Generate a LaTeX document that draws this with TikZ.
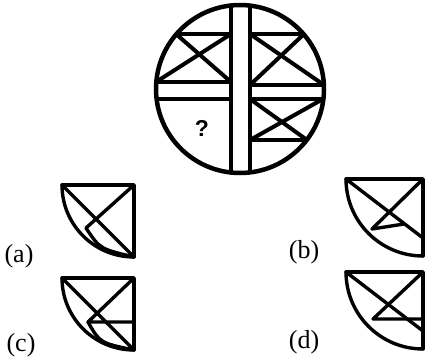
\documentclass[tikz,border=0pt]{standalone}
\usepackage{fontspec}
\setmainfont{Liberation Serif}
\newfontfamily\qfont{Liberation Sans}
\begin{document}
\begin{tikzpicture}[x=1pt,y=-1pt,
  ln/.style={line width=4.5pt,line cap=butt},
  opt/.style={line width=3.4pt,line cap=round,line join=round},
  lab/.style={font=\fontsize{26}{26}\selectfont,inner sep=0pt}]
\useasboundingbox (0,0) rectangle (426,359);
% main circle
\coordinate (C) at (240,89);
\begin{scope}
  \clip (C) circle[radius=84];
  % vertical bar
  \draw[ln] (231,0) -- (231,180);
  \draw[ln] (250,0) -- (250,180);
  % horizontal bar
  \draw[ln] (150,82) -- (231,82);
  \draw[ln] (150,99) -- (231,99);
  \draw[ln] (250,85) -- (330,85);
  \draw[ln] (250,99) -- (330,99);
  % top-left cell
  \draw[ln] (150,34) -- (231,34);
  \draw[ln,line width=4pt] (176,34) -- (231,82);
  \draw[ln,line width=4pt] (231,34) -- (156,82);
  % top-right cell
  \draw[ln] (250,34) -- (330,34);
  \draw[ln,line width=4pt] (250,34) -- (324,85);
  \draw[ln,line width=4pt] (304,34) -- (250,85);
  % bottom-right cell
  \draw[ln] (250,140) -- (330,140);
  \draw[ln,line width=4pt] (250,99) -- (307,140);
  \draw[ln,line width=4pt] (323,99) -- (250,140);
\end{scope}
\draw[line width=4.5pt] (C) circle[radius=84];
\node[font=\qfont\bfseries\fontsize{23}{23}\selectfont,inner sep=0pt] (q) at (202,128) {?};
% option (a)
\coordinate (a1) at (62,185);
\coordinate (a2) at (134,185);
\coordinate (a3) at (134,257);
\coordinate (a4) at (86,228);
\draw[opt] (a1) -- (a2) -- (a3);
\draw[opt] (a1) arc[start angle=180,end angle=90,radius=72];
\draw[opt] (a1) -- (a3);
\draw[opt] (a2) -- (a4);
\draw[opt] (a4) .. controls (100,249) .. (a3);
\node[lab] (la) at (19,256) {(a)};
% option (b)
\coordinate (b1) at (346,179);
\coordinate (b2) at (423,179);
\coordinate (b3) at (423,256);
\coordinate (b4) at (423,238);
\coordinate (b5) at (372,229);
\coordinate (b6) at (404,224);
\draw[opt] (b1) -- (b2) -- (b3);
\draw[opt] (b1) arc[start angle=180,end angle=90,radius=77];
\draw[opt] (b1) -- (b4);
\draw[opt] (b2) -- (b5) -- (b6);
\node[lab] (lb) at (304,252) {(b)};
% option (c)
\coordinate (c1) at (62,278);
\coordinate (c2) at (134,278);
\coordinate (c3) at (134,350);
\coordinate (c4) at (88,322);
\coordinate (c5) at (134,322);
\draw[opt] (c1) -- (c2) -- (c3);
\draw[opt] (c1) arc[start angle=180,end angle=90,radius=72];
\draw[opt] (c1) -- (c3);
\draw[opt] (c2) -- (c4) -- (c5);
\draw[opt] (c4) .. controls (100,343) .. (c3);
\node[lab] (lc) at (21,345) {(c)};
% option (d)
\coordinate (d1) at (346,272);
\coordinate (d2) at (423,272);
\coordinate (d3) at (423,349);
\coordinate (d4) at (423,331);
\coordinate (d5) at (373,319);
\coordinate (d6) at (423,319);
\draw[opt] (d1) -- (d2) -- (d3);
\draw[opt] (d1) arc[start angle=180,end angle=90,radius=77];
\draw[opt] (d1) -- (d4);
\draw[opt] (d2) -- (d5) -- (d6);
\node[lab] (ld) at (304,342) {(d)};
\end{tikzpicture}
\end{document}
